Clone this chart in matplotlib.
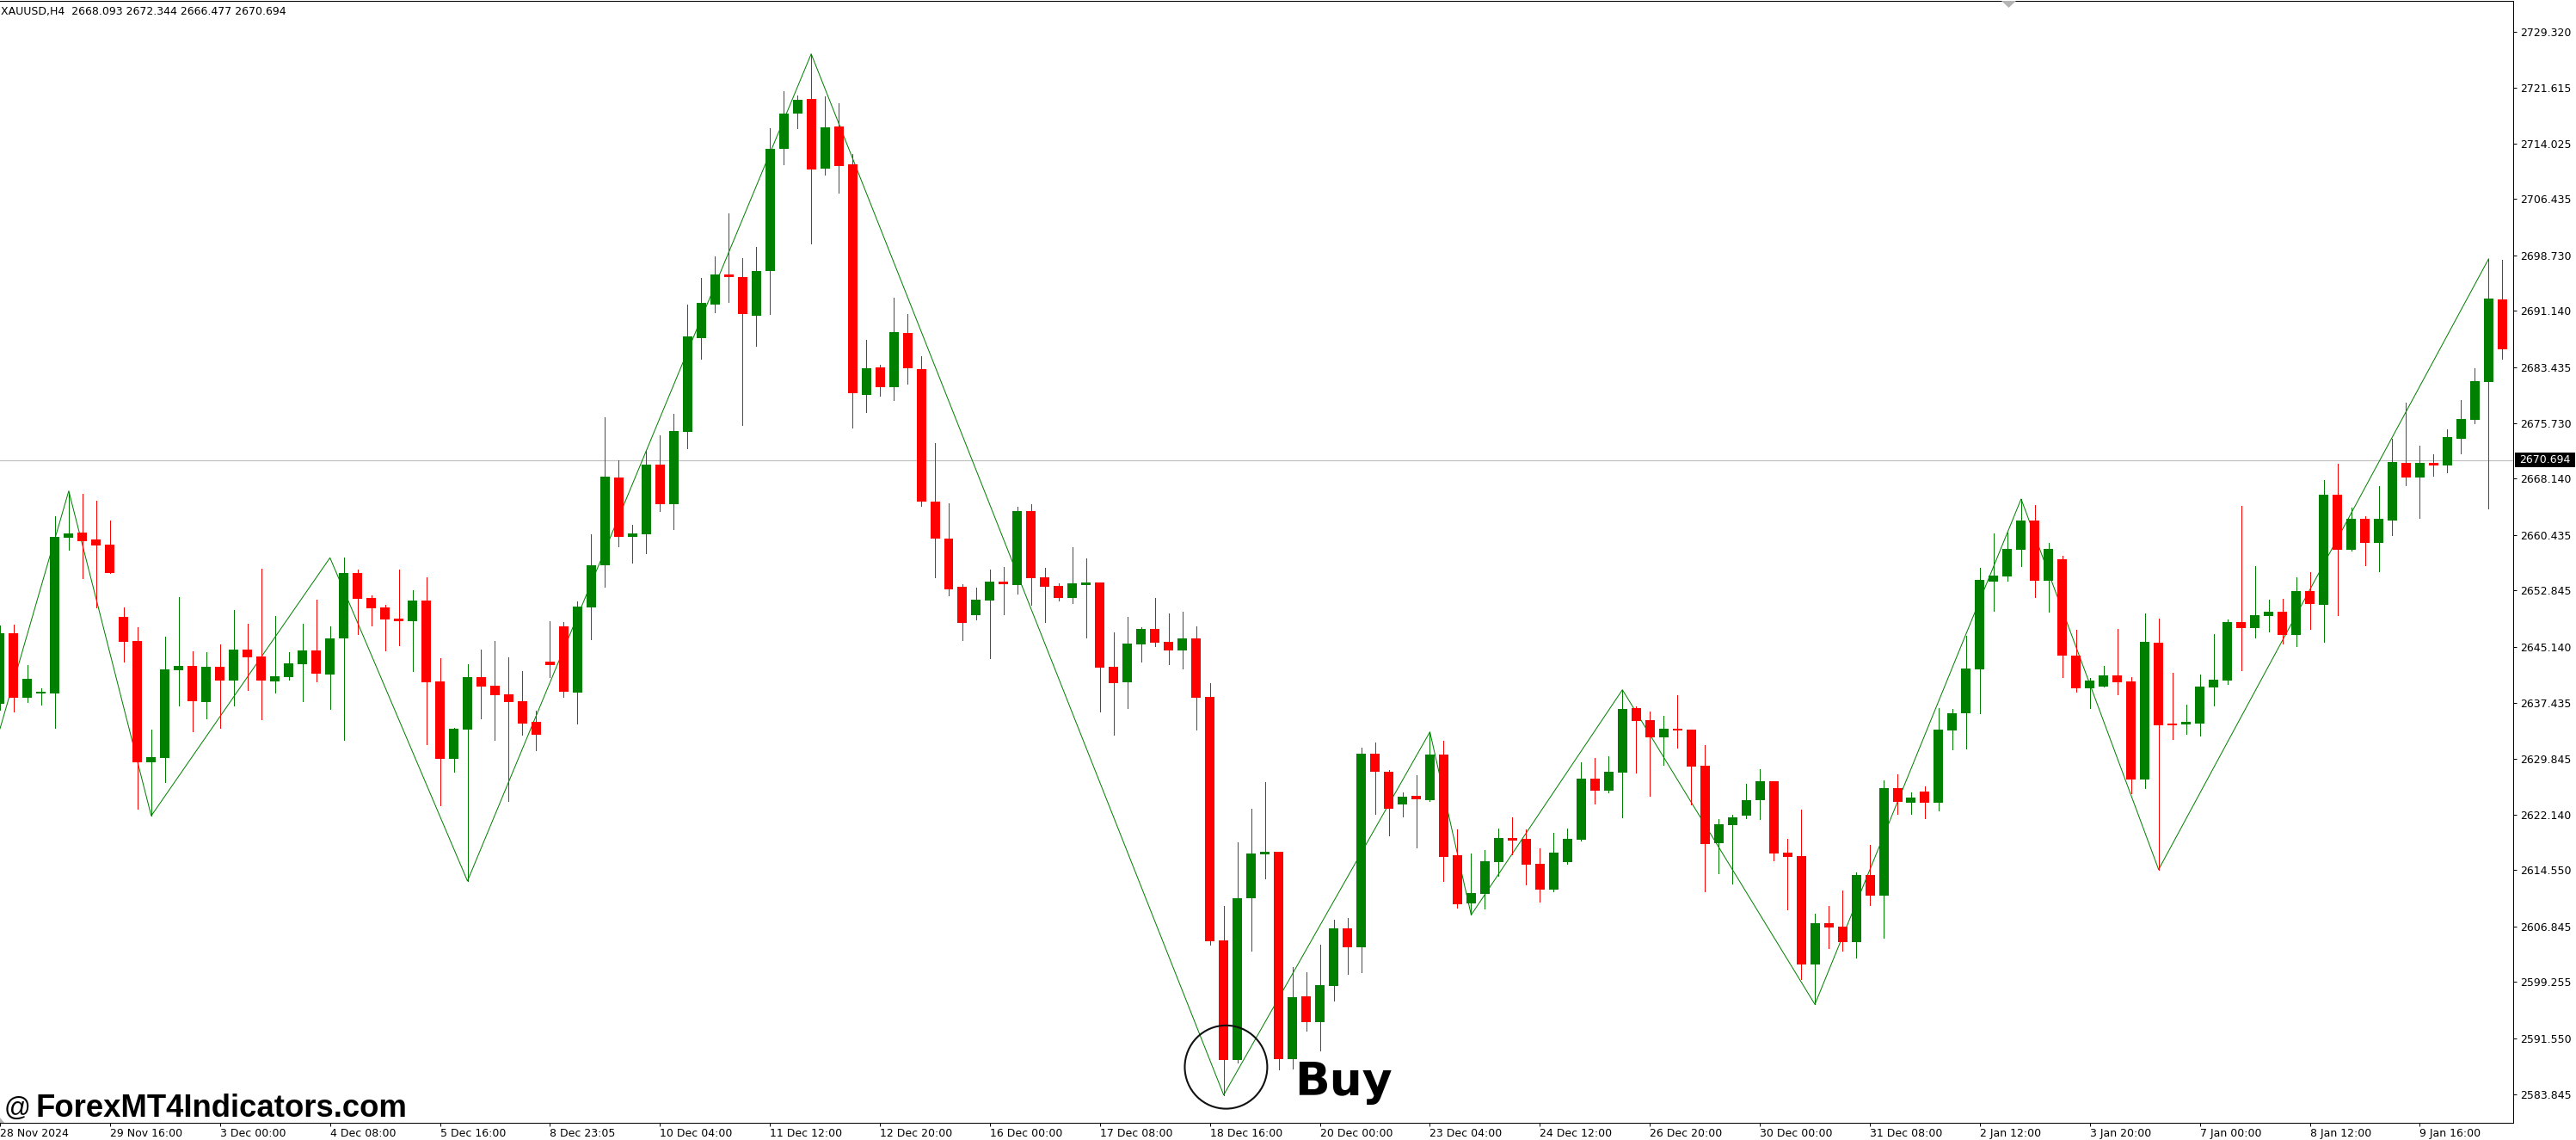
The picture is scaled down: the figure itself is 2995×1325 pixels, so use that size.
import matplotlib
matplotlib.use("Agg")
import matplotlib.pyplot as plt
from matplotlib.patches import Ellipse, Polygon, Rectangle

# XAUUSD H4 candles
opens = [2637.38, 2646.99, 2638.20, 2638.79, 2638.79, 2660.07, 2660.77, 2659.83, 2659.13, 2649.23,
         2645.93, 2629.37, 2629.96, 2641.93, 2642.52, 2637.61, 2642.40, 2640.56, 2644.76, 2643.81,
         2640.44, 2641.03, 2642.79, 2644.64, 2641.38, 2646.33, 2655.24, 2651.82, 2650.53, 2649.00,
         2648.68, 2651.47, 2640.40, 2629.84, 2633.84, 2640.99, 2639.81, 2638.63, 2637.69, 2634.86,
         2643.11, 2647.94, 2638.91, 2650.57, 2656.34, 2668.31, 2660.22, 2660.58, 2670.08, 2664.70,
         2674.59, 2687.43, 2692.03, 2696.11, 2695.76, 2690.50, 2696.58, 2713.34, 2718.13, 2720.14,
         2710.64, 2716.37, 2711.19, 2679.66, 2683.39, 2680.72, 2688.10, 2683.15, 2665.01, 2659.95,
         2653.35, 2649.51, 2651.51, 2654.06, 2653.63, 2663.72, 2654.65, 2653.47, 2651.86, 2653.63,
         2653.94, 2642.40, 2640.32, 2645.50, 2647.58, 2645.82, 2644.68, 2646.29, 2638.28, 2604.98,
         2588.61, 2610.71, 2616.72, 2617.07, 2588.73, 2597.25, 2593.75, 2598.70, 2606.63, 2603.96,
         2630.54, 2628.06, 2623.55, 2624.69, 2624.14, 2630.42, 2616.60, 2610.04, 2611.34, 2615.70,
         2618.92, 2618.80, 2615.42, 2611.93, 2615.70, 2618.72, 2627.08, 2625.47, 2627.95, 2636.74,
         2635.09, 2632.77, 2633.91, 2633.80, 2628.85, 2618.29, 2620.76, 2622.06, 2624.18, 2626.73,
         2616.95, 2616.48, 2601.68, 2607.29, 2606.82, 2604.74, 2613.89, 2611.10, 2625.79, 2623.82,
         2625.32, 2623.82, 2633.72, 2636.07, 2642.09, 2654.10, 2654.81, 2658.46, 2662.42, 2654.22,
         2657.12, 2643.93, 2639.50, 2639.73, 2641.22, 2640.40, 2627.01, 2645.70, 2634.63, 2634.55,
         2634.67, 2639.61, 2640.56, 2648.53, 2647.74, 2649.39, 2649.94, 2646.80, 2652.77, 2650.92,
         2665.95, 2658.46, 2662.66, 2659.40, 2662.46, 2670.31, 2668.35, 2670.31, 2670.00, 2673.65,
         2676.24, 2681.42, 2692.69]
closes = [2646.99, 2638.20, 2640.75, 2638.98, 2660.19, 2660.66, 2659.60, 2659.01, 2655.28, 2645.86,
          2629.37, 2630.03, 2642.05, 2642.52, 2637.73, 2642.40, 2640.56, 2644.76, 2643.74, 2640.56,
          2641.10, 2642.87, 2644.64, 2641.50, 2646.29, 2655.24, 2651.74, 2650.45, 2648.92, 2648.68,
          2651.47, 2640.32, 2629.84, 2633.92, 2640.99, 2639.73, 2638.55, 2637.61, 2634.67, 2633.14,
          2642.68, 2639.02, 2650.65, 2656.30, 2668.43, 2660.22, 2660.66, 2670.08, 2664.70, 2674.67,
          2687.63, 2692.22, 2696.11, 2695.76, 2690.73, 2696.58, 2713.31, 2718.13, 2720.02, 2710.52,
          2716.25, 2710.99, 2679.89, 2683.27, 2680.72, 2688.22, 2683.31, 2665.05, 2659.99, 2653.04,
          2648.45, 2651.59, 2654.06, 2653.75, 2663.72, 2654.57, 2653.39, 2651.86, 2653.83, 2653.94,
          2642.32, 2640.20, 2645.58, 2647.58, 2645.74, 2644.68, 2646.29, 2638.20, 2604.78, 2588.61,
          2610.71, 2616.84, 2617.07, 2588.73, 2597.13, 2593.75, 2598.78, 2606.63, 2603.96, 2630.54,
          2627.99, 2622.96, 2624.57, 2624.26, 2630.42, 2616.40, 2609.93, 2611.42, 2615.78, 2618.92,
          2618.60, 2615.34, 2611.93, 2616.95, 2618.84, 2627.08, 2625.47, 2628.02, 2636.62, 2635.01,
          2632.77, 2633.91, 2633.68, 2628.77, 2618.17, 2620.84, 2621.78, 2624.14, 2626.73, 2616.87,
          2616.40, 2601.68, 2607.29, 2606.75, 2604.74, 2613.89, 2611.10, 2625.79, 2623.94, 2624.49,
          2623.82, 2633.80, 2636.03, 2642.16, 2654.30, 2654.89, 2658.54, 2662.42, 2654.22, 2658.54,
          2643.97, 2639.50, 2640.52, 2641.22, 2640.32, 2627.01, 2645.82, 2634.43, 2634.43, 2634.86,
          2639.69, 2640.63, 2648.53, 2647.74, 2649.47, 2649.94, 2646.80, 2652.77, 2651.04, 2665.95,
          2658.46, 2662.66, 2659.40, 2662.66, 2670.43, 2668.35, 2670.31, 2670.00, 2673.85, 2676.32,
          2681.50, 2692.81, 2685.90]
highs = [2648.00, 2648.17, 2642.64, 2639.46, 2663.01, 2666.35, 2666.07, 2665.13, 2662.42, 2650.53,
         2647.82, 2633.80, 2646.52, 2651.94, 2644.52, 2644.40, 2645.46, 2650.17, 2648.29, 2655.83,
         2649.35, 2644.40, 2648.29, 2651.59, 2647.94, 2657.36, 2655.71, 2652.18, 2650.88, 2655.71,
         2652.88, 2654.65, 2643.58, 2634.04, 2642.75, 2644.76, 2645.93, 2643.70, 2641.81, 2636.39,
         2648.64, 2648.53, 2651.35, 2660.54, 2676.56, 2670.67, 2661.83, 2671.96, 2674.08, 2677.03,
         2691.99, 2695.64, 2698.58, 2704.47, 2698.35, 2699.88, 2716.13, 2721.20, 2720.61, 2726.30,
         2720.49, 2719.55, 2712.60, 2687.16, 2683.74, 2692.93, 2690.69, 2684.92, 2673.02, 2664.78,
         2653.71, 2653.24, 2655.71, 2656.06, 2664.31, 2664.66, 2655.95, 2653.83, 2658.77, 2657.24,
         2653.94, 2647.11, 2649.23, 2647.82, 2651.82, 2649.70, 2649.94, 2647.94, 2640.16, 2609.65,
         2618.33, 2622.92, 2626.65, 2617.07, 2601.33, 2600.62, 2604.39, 2607.81, 2608.04, 2631.36,
         2632.07, 2628.30, 2625.16, 2627.59, 2633.48, 2632.30, 2620.10, 2616.84, 2617.31, 2620.21,
         2621.74, 2620.10, 2617.50, 2619.62, 2620.25, 2629.32, 2629.91, 2630.14, 2639.25, 2636.98,
         2636.27, 2635.68, 2638.51, 2633.80, 2631.68, 2621.55, 2622.14, 2626.38, 2628.38, 2626.73,
         2618.84, 2622.84, 2608.59, 2609.65, 2611.77, 2614.24, 2618.01, 2626.85, 2627.67, 2625.20,
         2626.02, 2636.74, 2636.62, 2646.64, 2655.95, 2660.66, 2660.74, 2665.37, 2664.54, 2659.36,
         2657.60, 2647.47, 2640.87, 2642.52, 2647.58, 2640.99, 2649.70, 2649.00, 2641.58, 2637.22,
         2641.34, 2646.88, 2648.88, 2664.43, 2656.18, 2651.59, 2651.71, 2654.65, 2655.36, 2667.96,
         2670.19, 2664.19, 2663.01, 2667.13, 2673.61, 2678.56, 2672.67, 2671.49, 2674.91, 2678.91,
         2683.27, 2698.23, 2698.11]
lows = [2636.50, 2636.32, 2637.61, 2637.26, 2634.08, 2658.42, 2654.57, 2650.57, 2655.28, 2643.15,
        2623.01, 2621.99, 2626.66, 2637.14, 2633.61, 2635.37, 2634.08, 2637.14, 2639.26, 2635.26,
        2638.91, 2640.67, 2637.73, 2640.44, 2636.67, 2632.43, 2646.92, 2648.09, 2644.68, 2645.38,
        2641.85, 2631.84, 2623.48, 2628.07, 2613.07, 2635.37, 2632.43, 2624.07, 2633.14, 2631.02,
        2641.03, 2638.32, 2634.67, 2646.21, 2653.39, 2658.93, 2656.69, 2657.99, 2663.76, 2661.28,
        2672.36, 2684.61, 2690.97, 2692.38, 2675.54, 2686.37, 2690.73, 2711.22, 2716.17, 2700.39,
        2709.81, 2707.34, 2675.18, 2677.30, 2679.54, 2678.95, 2681.19, 2664.46, 2654.69, 2652.22,
        2646.09, 2648.92, 2643.62, 2649.62, 2652.45, 2650.92, 2648.56, 2651.51, 2651.16, 2646.44,
        2636.32, 2633.14, 2636.79, 2643.15, 2645.27, 2642.79, 2642.20, 2633.84, 2604.31, 2583.78,
        2588.25, 2603.49, 2613.46, 2587.31, 2587.43, 2592.57, 2589.90, 2596.70, 2600.31, 2600.54,
        2622.25, 2619.31, 2621.90, 2617.66, 2624.02, 2613.11, 2609.46, 2608.43, 2609.34, 2613.73,
        2616.68, 2612.64, 2610.28, 2611.69, 2615.46, 2618.60, 2623.71, 2625.24, 2621.82, 2627.95,
        2624.77, 2629.01, 2631.36, 2623.59, 2611.69, 2614.17, 2612.75, 2621.70, 2621.59, 2615.93,
        2609.22, 2599.68, 2596.18, 2603.92, 2603.56, 2602.62, 2609.81, 2605.33, 2622.29, 2622.29,
        2621.70, 2622.76, 2631.13, 2631.24, 2636.08, 2650.10, 2654.22, 2656.22, 2651.98, 2649.98,
        2641.03, 2639.03, 2636.79, 2639.73, 2638.67, 2625.13, 2625.83, 2614.64, 2632.55, 2633.25,
        2633.02, 2637.14, 2640.09, 2641.97, 2646.45, 2647.27, 2645.62, 2645.27, 2647.62, 2645.85,
        2649.50, 2658.34, 2656.34, 2655.51, 2660.46, 2667.29, 2662.81, 2668.59, 2669.06, 2671.65,
        2675.77, 2664.11, 2684.60]

# zigzag turning points
zz_bars = [0, 5, 11, 24, 34, 59, 89, 104, 107, 118, 132, 147, 157, 181]
zz_prices = [2633.92, 2666.47, 2621.99, 2657.32, 2613.07, 2726.30, 2583.78, 2633.48,
             2608.43, 2639.25, 2596.18, 2665.37, 2614.64, 2698.23]

# price scale
price_ticks = [2729.320, 2721.615, 2714.025, 2706.435, 2698.730, 2691.140, 2683.435,
               2675.730, 2668.140, 2660.435, 2652.845, 2645.140, 2637.435, 2629.845,
               2622.140, 2614.550, 2606.845, 2599.255, 2591.550, 2583.845]
last_price = 2670.694

# time scale, one label every 8 bars
time_labels = ["28 Nov 2024", "29 Nov 16:00", "3 Dec 00:00", "4 Dec 08:00", "5 Dec 16:00",
               "8 Dec 23:05", "10 Dec 04:00", "11 Dec 12:00", "12 Dec 20:00", "16 Dec 00:00",
               "17 Dec 08:00", "18 Dec 16:00", "20 Dec 00:00", "23 Dec 04:00", "24 Dec 12:00",
               "26 Dec 20:00", "30 Dec 00:00", "31 Dec 08:00", "2 Jan 12:00", "3 Jan 20:00",
               "7 Jan 00:00", "8 Jan 12:00", "9 Jan 16:00"]

W, H = 2995, 1325
PX = 0.72  # one pixel in points at dpi 100
UP, DOWN = "#008000", "#ff0000"

fig = plt.figure(figsize=(W / 100, H / 100), dpi=100, facecolor="white")
ax = fig.add_axes([0, (H - 1305) / H, 2922 / W, 1304 / H])
ax.set_xlim(0.1667, 182.79)
ax.set_ylim(2579.97, 2733.56)

bars = list(range(len(opens)))
colors = [UP if c >= o else DOWN for o, c in zip(opens, closes)]
bottoms = [min(o, c) for o, c in zip(opens, closes)]
heights = [abs(o - c) for o, c in zip(opens, closes)]

ax.axhline(last_price, color="#c0c0c0", lw=PX * 1.2, zorder=1)
ax.plot(zz_bars, zz_prices, color=UP, lw=PX, zorder=2)
ax.vlines(bars, lows, highs, colors=colors, lw=PX, antialiased=False, snap=True, zorder=3)
ax.bar(bars, heights, bottom=bottoms, width=11 / 16, color=colors, lw=0, antialiased=False, zorder=4)

# buy circle around the low
ax.add_patch(Ellipse((89.17, 2587.6), 6, 11.4, fill=False, ec="#111111", lw=1.5, zorder=5))

ax.spines["left"].set_visible(False)
for side in ["top", "right", "bottom"]:
    ax.spines[side].set_linewidth(PX)

ax.yaxis.tick_right()
ax.set_yticks(price_ticks)
ax.set_yticklabels(["%.3f" % p for p in price_ticks])
ax.set_xticks(bars[::8])
ax.set_xticklabels(time_labels, ha="left")
ax.tick_params(axis="both", length=3, width=PX, labelsize=9, colors="black")
ax.tick_params(axis="x", pad=1.5)
ax.tick_params(axis="y", pad=2.5)


def px_text(x, y, s, **kw):
    fig.text(x / W, 1 - y / H, s, **kw)


def px_shape(points, color):
    pts = [(x / W, 1 - y / H) for x, y in points]
    fig.add_artist(Polygon(pts, closed=True, fc=color, ec="none", transform=fig.transFigure))


# last price tag
fig.add_artist(Rectangle((2924 / W, 1 - 543 / H), 70 / W, 17 / H, fc="black", ec="none",
                         transform=fig.transFigure))
px_text(2929, 535, "%.3f" % last_price, fontsize=9, color="white", va="center", ha="left")

# small chart shift markers on the frame
px_shape([(2327, 1), (2344, 1), (2335.5, 9)], "#b4b4b4")
px_shape([(0, 1299), (5, 1305), (0, 1305)], "#b4b4b4")

px_text(1, 13, "XAUUSD,H4  2668.093 2672.344 2666.477 2670.694", fontsize=9, va="center", ha="left")
px_text(5, 1297, "@", fontsize=22, family="Liberation Sans", va="baseline", ha="left")
px_text(41, 1298, "ForexMT4Indicators.com", fontsize=26.3, family="Liberation Sans", weight="bold",
        va="baseline", ha="left")
px_text(1505, 1273, "Buy", fontsize=38.5, family="DejaVu Sans", weight="bold", va="baseline", ha="left")

fig.savefig("out.png", dpi=100, facecolor="white")
